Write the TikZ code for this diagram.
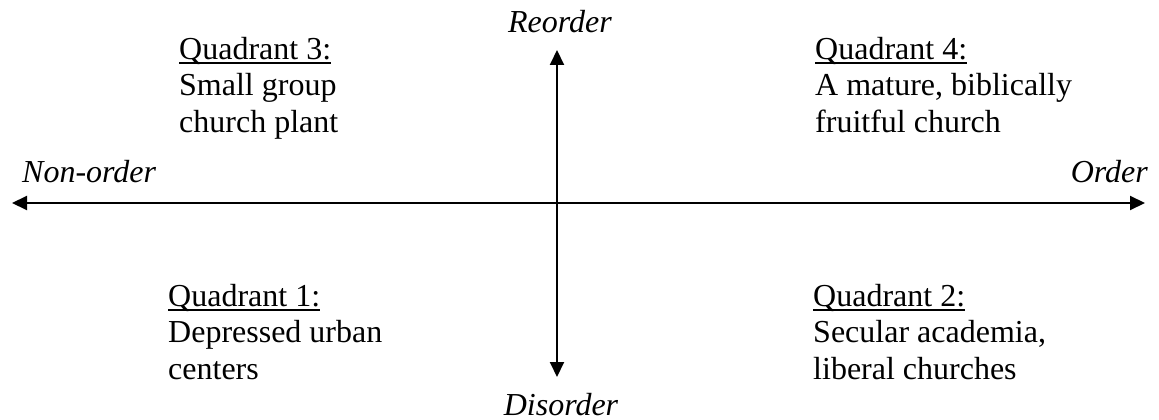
\documentclass[tikz,border=0pt]{standalone}
\usepackage{fontspec}
\setmainfont{Liberation Serif}
\usetikzlibrary{arrows.meta}
\newcommand\qul[1]{\setbox0\hbox{#1}\rlap{\rule[-4.5pt]{\wd0}{1.8pt}}\box0}
\tikzset{
  x=1pt, y=-1pt,
  axis/.style={line width=2pt, {Triangle[length=15pt,width=14pt]}-{Triangle[length=15pt,width=14pt]}},
  axlabel/.style={inner sep=0pt, font=\fontsize{32}{36.5}\selectfont\itshape},
  quad/.style={inner sep=0pt, anchor=north west, align=left, font=\fontsize{32}{36.5}\selectfont}
}
\begin{document}
\begin{tikzpicture}
\useasboundingbox (0,0) rectangle (1159,420);
\coordinate (L) at (12,203);
\coordinate (R) at (1145,203);
\coordinate (T) at (557,50);
\coordinate (B) at (557,377);
\draw[axis] (L) -- (R);
\draw[axis] (T) -- (B);
\node[axlabel, anchor=base] (reorder) at (560,33) {Reorder};
\node[axlabel, anchor=base] (disorder) at (561,415) {Disorder};
\node[axlabel, anchor=base west] (nonorder) at (22,182) {Non-order};
\node[axlabel, anchor=base east] (order) at (1148,182) {Order};
\node[quad] (q3) at (179,37) {\qul{Quadrant 3:}\\Small group\\church plant};
\node[quad] (q4) at (815,37) {\qul{Quadrant 4:}\\A mature, biblically\\fruitful church};
\node[quad] (q1) at (168,284) {\qul{Quadrant 1:}\\Depressed urban\\centers};
\node[quad] (q2) at (813,284) {\qul{Quadrant 2:}\\Secular academia,\\liberal churches};
\end{tikzpicture}
\end{document}
